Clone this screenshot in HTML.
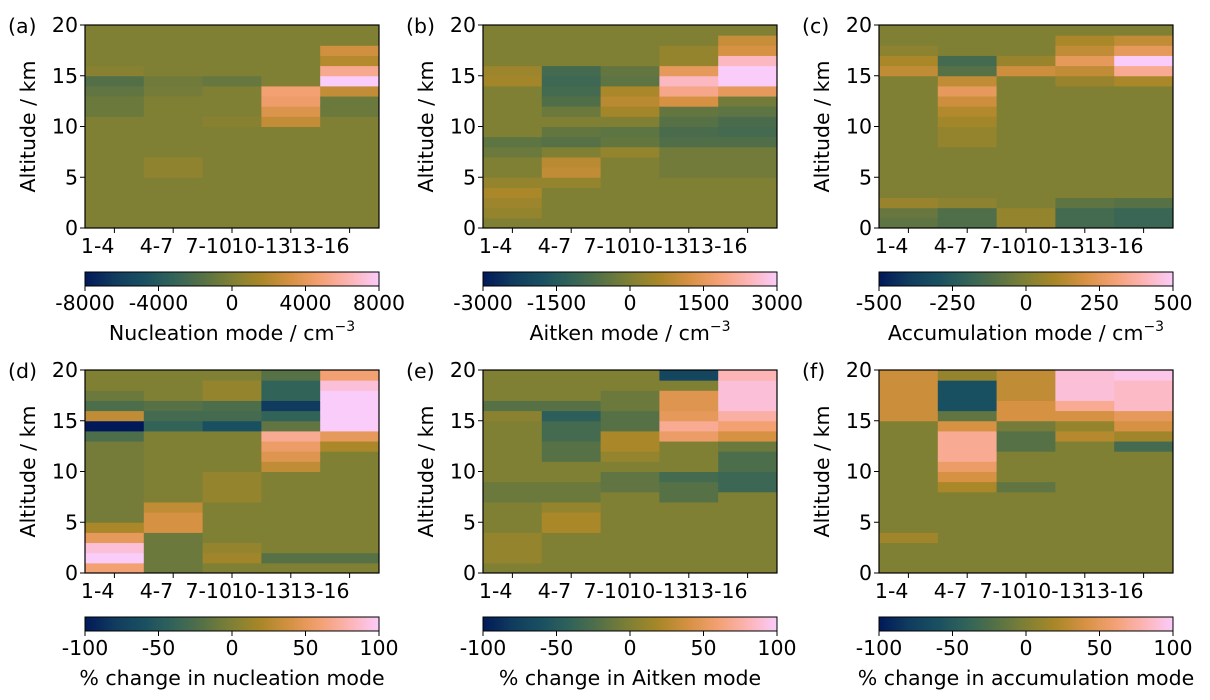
<!DOCTYPE html>
<html><head><meta charset="utf-8">
<style>
html,body{margin:0;padding:0;background:#fff;}
svg{display:block;font-family:"DejaVu Sans","Liberation Sans",sans-serif;}
</style></head>
<body>
<svg id="fig" width="1210" height="700" viewBox="0 0 1210 700" xmlns="http://www.w3.org/2000/svg"></svg>
<script>
// ---- data: categories and per-panel values (rows = 1 km altitude bins, 0-1 km first) ----
const categories = ["1-4","4-7","7-10","10-13","13-16"];
const yTicks = [0,5,10,15,20];
function col(pairs){const a=new Array(20).fill(0);for(const [lo,hi,v] of pairs){for(let k=lo;k<hi;k++)a[k]=v;}return a;}
const panelA = [
  col([[11,13,-800],[13,14,-1200],[14,15,-1800],[15,16,300]]),
  col([[5,7,600],[13,14,-400],[14,15,-600]]),
  col([[10,11,300],[14,15,-1000]]),
  col([[10,11,2500],[11,12,3500],[12,13,4500],[13,14,4800]]),
  col([[11,13,-800],[13,14,2500],[14,15,8000],[15,16,5500],[16,17,2000],[17,18,3000]])
];
const panelB = [
  col([[1,2,300],[2,3,400],[3,4,600],[4,5,300],[7,8,-300],[8,9,-500],[14,15,500],[15,16,400]]),
  col([[4,5,300],[5,6,900],[6,7,800],[8,9,-600],[9,10,-400],[11,12,-300],[12,13,-700],[13,14,-900],[14,15,-1000],[15,16,-900]]),
  col([[7,8,300],[8,9,-400],[9,10,-500],[11,12,500],[12,13,800],[13,14,600],[14,15,-500],[15,16,-400]]),
  col([[5,8,-200],[8,9,-700],[9,10,-800],[10,11,-600],[11,12,-400],[12,13,1200],[13,14,2000],[14,15,2500],[15,16,1500],[16,18,300]]),
  col([[5,8,-200],[8,9,-700],[9,10,-900],[10,11,-800],[11,12,-500],[12,13,-200],[13,14,1500],[14,16,3000],[16,17,2500],[17,18,1200],[18,19,1000]])
];
const panelC = [
  col([[0,1,-80],[1,2,-60],[2,3,60],[15,16,150],[16,17,100],[17,18,30]]),
  col([[0,2,-120],[2,3,30],[8,10,50],[10,11,80],[11,12,120],[12,13,180],[13,14,250],[14,15,150],[15,16,-100],[16,17,-150]]),
  col([[0,2,50],[15,16,180],[16,17,60]]),
  col([[0,2,-150],[2,3,-80],[14,15,60],[15,16,150],[16,17,250],[17,18,150],[18,19,100]]),
  col([[0,2,-180],[2,3,-100],[14,15,100],[15,16,350],[16,17,500],[17,18,250],[18,19,150]])
];
const panelD = [
  col([[0,1,60],[1,2,100],[2,3,90],[3,4,50],[4,5,20],[5,13,-5],[13,14,-25],[14,15,-100],[15,16,30],[16,17,-25],[17,18,-10]]),
  col([[0,4,-10],[4,6,40],[6,7,30],[14,15,-40],[15,16,-30],[16,17,-20]]),
  col([[1,2,15],[2,3,10],[7,10,10],[14,15,-60],[15,16,-30],[16,17,-25],[17,19,10]]),
  col([[1,2,-20],[10,11,30],[11,12,45],[12,13,55],[13,14,70],[14,15,-15],[15,16,-40],[16,17,-80],[17,19,-40],[19,20,-20]]),
  col([[1,2,-20],[12,13,20],[13,14,50],[14,18,100],[18,19,90],[19,20,60]])
];
const panelE = [
  col([[1,4,10],[7,9,-10],[15,16,5],[16,17,-20]]),
  col([[4,6,20],[6,7,10],[7,9,-10],[11,13,-20],[13,15,-30],[15,16,-45],[16,17,-20]]),
  col([[8,10,-15],[11,12,10],[12,14,20],[14,16,-20],[16,18,-10]]),
  col([[7,9,-20],[9,10,-30],[13,14,55],[14,15,70],[15,16,50],[16,18,45],[19,20,-70]]),
  col([[8,10,-35],[10,12,-25],[12,13,-10],[13,14,40],[14,15,60],[15,16,75],[16,19,90],[19,20,80]])
];
const panelF = [
  col([[3,4,15],[15,20,35]]),
  col([[8,9,20],[9,10,40],[10,11,55],[11,14,70],[14,15,40],[15,16,-15],[16,19,-60],[19,20,10]]),
  col([[8,9,-15],[12,14,-20],[14,15,-5],[15,17,40],[17,20,30]]),
  col([[13,14,25],[14,15,10],[15,16,40],[16,17,70],[17,20,90]]),
  col([[12,13,-30],[13,14,15],[14,15,40],[15,16,50],[16,19,85],[19,20,95]])
];
const cbTicksA = ["-8000","-4000","0","4000","8000"];
const cbTicksB = ["-3000","-1500","0","1500","3000"];
const cbTicksC = ["-500","-250","0","250","500"];
const cbTicksPct = ["-100","-50","0","50","100"];

// ---- colormap (batlow-like) ----
const cmap=[[0,1,25,89],[0.1,16,59,94],[0.2,25,80,97],[0.3,50,99,89],[0.4,86,113,70],[0.5,128,128,52],[0.6,170,135,40],[0.7,214,145,67],[0.8,243,160,115],[0.9,252,180,180],[1,250,204,250]];
function color(t){t=Math.max(0,Math.min(1,t));for(let i=1;i<cmap.length;i++){if(t<=cmap[i][0]){const a=cmap[i-1],b=cmap[i],f=(t-a[0])/(b[0]-a[0]);return `rgb(${[1,2,3].map(k=>Math.round(a[k]+f*(b[k]-a[k]))).join(',')})`;}}return 'rgb(250,204,250)';}

const NS="http://www.w3.org/2000/svg";
const svg=document.getElementById('fig');
function el(tag,attrs,parent,text){const e=document.createElementNS(NS,tag);for(const k in attrs)e.setAttribute(k,attrs[k]);if(text!==undefined)e.textContent=text;(parent||svg).appendChild(e);return e;}

const defs=el('defs',{});
const grad=el('linearGradient',{id:'cg',x1:'0',x2:'1',y1:'0',y2:'0'},defs);
for(let i=0;i<=20;i++){el('stop',{offset:(i/20),'stop-color':color(i/20)},grad);}

const FS=20.5;
const panels=[
 {id:'a',data:panelA,range:8000,ticks:cbTicksA,label:'Nucleation mode / cm',sup:true,x:85,y:25},
 {id:'b',data:panelB,range:3000,ticks:cbTicksB,label:'Aitken mode / cm',sup:true,x:483,y:25},
 {id:'c',data:panelC,range:500,ticks:cbTicksC,label:'Accumulation mode / cm',sup:true,x:879,y:25},
 {id:'d',data:panelD,range:100,ticks:cbTicksPct,label:'% change in nucleation mode',sup:false,x:85,y:370},
 {id:'e',data:panelE,range:100,ticks:cbTicksPct,label:'% change in Aitken mode',sup:false,x:483,y:370},
 {id:'f',data:panelF,range:100,ticks:cbTicksPct,label:'% change in accumulation mode',sup:false,x:879,y:370}
];
const W=294,H=203;
for(const p of panels){
  const g=el('g',{});
  
  
  const xs=i=>p.x+W*i/categories.length;
  const ys=v=>p.y+H-H*v/20;
  p.data.forEach((arr,ci)=>{
    arr.forEach((v,ri)=>{
      const r=el('rect',{x:xs(ci),y:ys(ri+1),width:xs(ci+1)-xs(ci)+0.5,height:ys(ri)-ys(ri+1)+0.5,fill:color(0.5+v/(2*p.range))},g);
      
      
    });
  });
  el('rect',{x:p.x,y:p.y,width:W,height:H,fill:'none',stroke:'#000','stroke-width':1.2},g);
  yTicks.forEach(t=>{
    el('line',{x1:p.x-5,x2:p.x,y1:ys(t),y2:ys(t),stroke:'#000','stroke-width':1},g);
    const tl=el('text',{x:p.x-7,y:ys(t)+7,'text-anchor':'end','font-size':FS},g,String(t));
    
    
  });
  categories.forEach((c,i)=>{
    const cx=(xs(i)+xs(i+1))/2;
    el('line',{x1:cx,x2:cx,y1:p.y+H,y2:p.y+H+5,stroke:'#000','stroke-width':1},g);
    const tl=el('text',{x:cx,y:p.y+H+25,'text-anchor':'end','font-size':FS},g,c);
    
    
  });
  const yt=el('text',{x:0,y:0,'text-anchor':'middle','font-size':FS,transform:`translate(${p.x-50},${p.y+H/2}) rotate(-90)`},g,'Altitude / km');
  
  
  const pl=el('text',{x:p.x-77,y:p.y+8,'font-size':FS},g,'('+p.id+')');
  
  
  const cy=p.y+H+44;
  const cb=el('rect',{x:p.x,y:cy,width:W,height:14,fill:'url(#cg)',stroke:'#000','stroke-width':1},g);
  
  
  p.ticks.forEach((t,i)=>{
    const tx=p.x+W*i/(p.ticks.length-1);
    el('line',{x1:tx,x2:tx,y1:cy+14,y2:cy+19,stroke:'#000','stroke-width':1},g);
    const tl=el('text',{x:tx,y:cy+38,'text-anchor':'middle','font-size':FS},g,t);
    
    
  });
  const lb=el('text',{x:p.x+W/2,y:cy+68,'text-anchor':'middle','font-size':FS},g,p.label);
  if(p.sup){el('tspan',{dy:-9,'font-size':14},lb,'−3');}
  
  
}
</script>
</body></html>
